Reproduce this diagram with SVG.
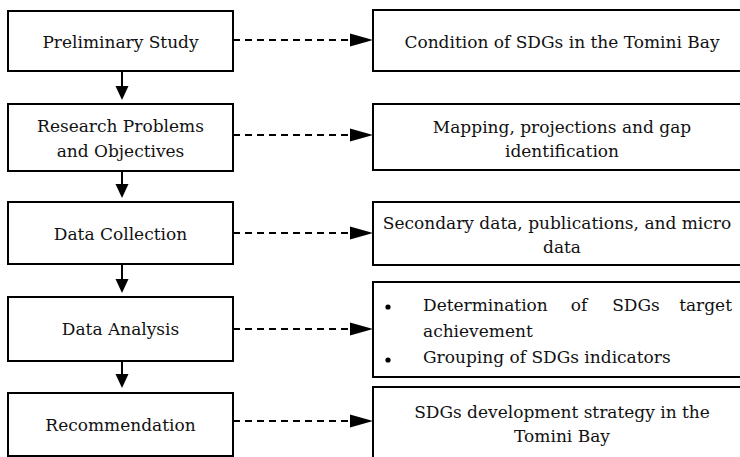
<svg xmlns="http://www.w3.org/2000/svg" width="740" height="457" viewBox="0 0 740 457">
<style>
.box{fill:#fff;stroke:#000;stroke-width:2}
text{font-family:'DejaVu Serif', 'Liberation Serif', serif;font-size:17px;fill:#111}
.c{text-anchor:middle}
.v{stroke:#000;stroke-width:2;fill:none}
.d{stroke:#000;stroke-width:2;fill:none;stroke-dasharray:7 5}
.h{fill:#000}
</style>
<rect width="740" height="457" fill="#fff"/>
<g id="connectors">
  <line class="v" x1="122" y1="71" x2="122" y2="88"/><polygon class="h" points="115.5,86 128.5,86 122,100"/>
  <line class="v" x1="122" y1="171" x2="122" y2="186"/><polygon class="h" points="115.5,184 128.5,184 122,198"/>
  <line class="v" x1="122" y1="264" x2="122" y2="281"/><polygon class="h" points="115.5,279 128.5,279 122,293"/>
  <line class="v" x1="122" y1="361" x2="122" y2="376"/><polygon class="h" points="115.5,374 128.5,374 122,388"/>
  <line class="d" x1="233" y1="40" x2="350" y2="40"/><polygon class="h" points="350,33.5 373,40 350,46.5"/>
  <line class="d" x1="233" y1="135" x2="350" y2="135"/><polygon class="h" points="350,128.5 373,135 350,141.5"/>
  <line class="d" x1="233" y1="233" x2="350" y2="233"/><polygon class="h" points="350,226.5 373,233 350,239.5"/>
  <line class="d" x1="233" y1="329" x2="350" y2="329"/><polygon class="h" points="350,322.5 373,329 350,335.5"/>
  <line class="d" x1="233" y1="421" x2="350" y2="421"/><polygon class="h" points="350,414.5 373,421 350,427.5"/>
</g>
<g id="n1"><rect class="box" x="8" y="11" width="225" height="60"/><text class="c" x="120.5" y="48">Preliminary Study</text></g>
<g id="n2"><rect class="box" x="8" y="104" width="225" height="67"/><text class="c" x="120.5" y="132">Research Problems</text><text class="c" x="120.5" y="157">and Objectives</text></g>
<g id="n3"><rect class="box" x="8" y="202" width="225" height="62"/><text class="c" x="120.5" y="240">Data Collection</text></g>
<g id="n4"><rect class="box" x="8" y="297" width="225" height="64"/><text class="c" x="120.5" y="335">Data Analysis</text></g>
<g id="n5"><rect class="box" x="8" y="393" width="225" height="63"/><text class="c" x="120.5" y="431">Recommendation</text></g>
<g id="r1"><rect class="box" x="373" y="10" width="380" height="61"/><text class="c" x="562" y="48">Condition of SDGs in the Tomini Bay</text></g>
<g id="r2"><rect class="box" x="373" y="104" width="380" height="66"/><text class="c" x="562" y="133">Mapping, projections and gap</text><text class="c" x="562" y="157">identification</text></g>
<g id="r3"><rect class="box" x="373" y="202" width="380" height="63"/><text class="c" x="557" y="229">Secondary data, publications, and micro</text><text class="c" x="562" y="253">data</text></g>
<g id="r4"><rect class="box" x="373" y="282" width="380" height="95"/>
  <circle cx="388" cy="307" r="2.6" fill="#000"/><circle cx="388" cy="360" r="2.6" fill="#000"/>
  <text x="423" y="311">Determination</text><text x="579" y="311" text-anchor="middle">of</text><text x="636" y="311" text-anchor="middle">SDGs</text><text x="732" y="311" text-anchor="end">target</text>
  <text x="423" y="337">achievement</text>
  <text x="423" y="363">Grouping of SDGs indicators</text></g>
<g id="r5"><rect class="box" x="373" y="387" width="380" height="80"/><text class="c" x="562" y="418">SDGs development strategy in the</text><text class="c" x="562" y="442">Tomini Bay</text></g>
</svg>
